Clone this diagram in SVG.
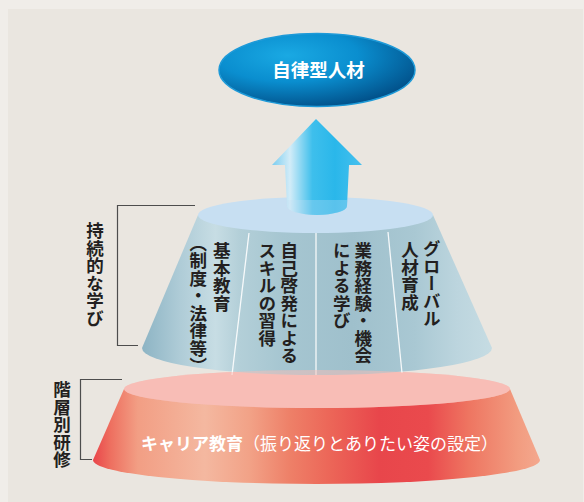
<svg xmlns="http://www.w3.org/2000/svg" width="584" height="502" viewBox="0 0 584 502">
<defs>
<style>
.t{font-family:"Noto Sans CJK JP","Noto Sans",sans-serif;}
.v{font-family:"Noto Sans CJK JP","Noto Sans",sans-serif;writing-mode:vertical-rl;font-size:17.5px;font-weight:700;fill:#231F20;}
.br{fill:none;stroke:#4D4D4D;stroke-width:1.2;}
.div{stroke:#FFFFFF;stroke-width:1.3;opacity:0.9;}
</style>
<radialGradient id="gTitle" cx="0.35" cy="0.3" r="0.8">
<stop offset="0" stop-color="#1AA9E3"/>
<stop offset="0.45" stop-color="#0A8ECF"/>
<stop offset="1" stop-color="#00477F"/>
</radialGradient>
<linearGradient id="gArrow" x1="272" y1="0" x2="362" y2="0" gradientUnits="userSpaceOnUse">
<stop offset="0" stop-color="#7ACDF0"/>
<stop offset="0.2" stop-color="#D2ECF8"/>
<stop offset="0.45" stop-color="#3EBFEC"/>
<stop offset="0.7" stop-color="#2AB7EA"/>
<stop offset="1" stop-color="#46C0EE"/>
</linearGradient>
<linearGradient id="gBlue" x1="142" y1="0" x2="492" y2="0" gradientUnits="userSpaceOnUse">
<stop offset="0" stop-color="#8DB4C4"/>
<stop offset="0.11" stop-color="#AFCCD7"/>
<stop offset="0.21" stop-color="#C7DDE4"/>
<stop offset="0.28" stop-color="#B3CFD8"/>
<stop offset="0.4" stop-color="#A6C6D1"/>
<stop offset="0.6" stop-color="#9FC0CC"/>
<stop offset="0.78" stop-color="#A9C8D3"/>
<stop offset="0.9" stop-color="#BCD5DE"/>
<stop offset="1" stop-color="#C6DCE3"/>
</linearGradient>
<linearGradient id="gRed" x1="93" y1="0" x2="540" y2="0" gradientUnits="userSpaceOnUse">
<stop offset="0" stop-color="#E9454A"/>
<stop offset="0.04" stop-color="#EE7060"/>
<stop offset="0.1" stop-color="#F29E84"/>
<stop offset="0.25" stop-color="#F4B8A0"/>
<stop offset="0.35" stop-color="#F2A287"/>
<stop offset="0.44" stop-color="#EE8068"/>
<stop offset="0.53" stop-color="#EC6658"/>
<stop offset="0.64" stop-color="#E8464B"/>
<stop offset="0.75" stop-color="#EA4A4D"/>
<stop offset="0.84" stop-color="#EE7561"/>
<stop offset="0.95" stop-color="#F29C80"/>
<stop offset="1" stop-color="#F4A88E"/>
</linearGradient>
</defs>

<rect x="0" y="0" width="584" height="502" fill="#F0EDE9"/>
<rect x="8" y="9" width="575" height="493" fill="#EAE6E0"/>

<g id="career">
<path d="M124,389 L93,460 A223.5,24 0 0 0 540,460 L510,389 Z" fill="url(#gRed)"/>
<ellipse cx="317" cy="389" rx="193" ry="19" fill="#F8BDB6"/>
</g>

<g id="sustained">
<path d="M198,215 L142,348 A175,27 0 0 0 492,348 L433,215 Z" fill="url(#gBlue)"/>
<ellipse cx="315.5" cy="215" rx="117.5" ry="18" fill="#C7DFF2"/>
</g>

<g id="dividers">
<line class="div" x1="249" y1="233" x2="232" y2="375"/>
<line class="div" x1="316" y1="233" x2="316" y2="375"/>
<line class="div" x1="388" y1="232" x2="402" y2="373"/>
</g>

<ellipse cx="317" cy="389" rx="193" ry="19" fill="#F8BDB6" opacity="0.5"/>

<g id="arrow">
<path d="M316,119 L362,165 L349,165 L347,206 A30,9 0 0 1 287,206 L285,165 L272,165 Z" fill="url(#gArrow)"/>
<path d="M347,206 A30,9 0 0 1 287,206 L286.5,200 L347.3,200 Z" fill="#C7DFF2" opacity="0.3"/>
</g>

<g id="goal">
<ellipse cx="317" cy="70" rx="98" ry="36.5" fill="url(#gTitle)" stroke="#1E9AD8" stroke-width="1.5"/>
<text class="t" x="318.5" y="77" font-size="18.5" font-weight="700" fill="#FFFFFF" text-anchor="middle">自律型人材</text>
</g>

<g id="col1">
<text class="v" x="221.7" y="242">基本教育</text>
<text class="v" x="198.3" y="243"><tspan style="font-feature-settings:'vhal'">（</tspan>制度・法律等<tspan style="font-feature-settings:'vhal'">）</tspan></text>
</g>
<g id="col2">
<text class="v" x="289.3" y="242">自己啓発による</text>
<text class="v" x="267.3" y="242">スキルの習得</text>
</g>
<g id="col3">
<text class="v" x="363.3" y="242">業務経験・機会</text>
<text class="v" x="341.7" y="242">による学び</text>
</g>
<g id="col4">
<text class="v" x="431.7" y="240">グローバル</text>
<text class="v" x="410" y="241">人材育成</text>
</g>

<g id="career-label">
<text class="t" x="141" y="449.5" font-size="17" fill="#FFFFFF"><tspan font-weight="700">キャリア教育</tspan>（振り返りとありたい姿の設定）</text>
</g>

<g id="label-sustained">
<path class="br" d="M195,205.5 H117.5 V345.5 H138"/>
<text class="v" x="95" y="222">持続的な学び</text>
</g>
<g id="label-tier">
<path class="br" d="M122,379.5 H80.5 V459.5 H92"/>
<text class="v" x="62" y="381">階層別研修</text>
</g>
</svg>
